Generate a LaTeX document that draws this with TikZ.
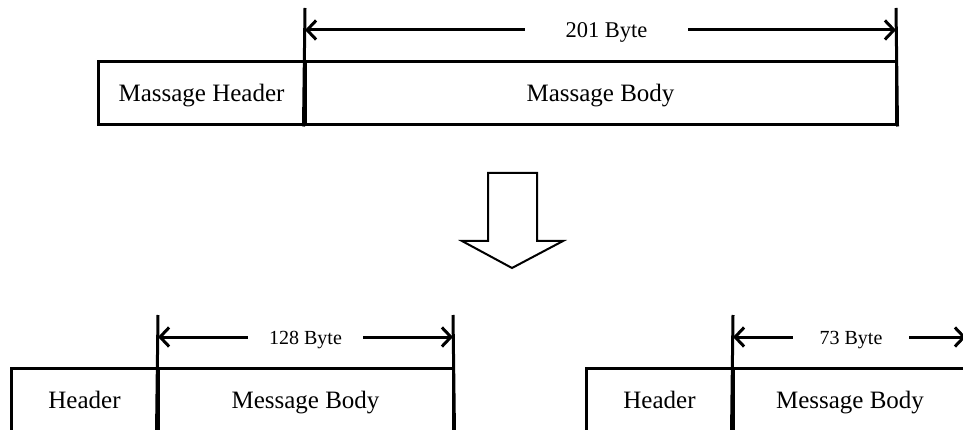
\documentclass[tikz,border=0pt]{standalone}
\usepackage{fontspec}
\setmainfont{Liberation Serif}
\usetikzlibrary{arrows.meta}
\begin{document}
\begin{tikzpicture}[x=1pt,y=-1pt,
  field/.style={draw,line width=3pt,rectangle,inner sep=0pt,
    text height=22.5pt,text depth=5.5pt,
    font=\fontsize{25}{30}\selectfont},
  dimline/.style={line width=3pt},
  dimarrow/.style={line width=3pt,-{Straight Barb[length=9pt,width=19pt]}},
  sizelabel/.style={inner sep=0pt},
  bigsize/.style={sizelabel,text height=20pt,text depth=4pt,
    font=\fontsize{22.5}{26}\selectfont},
  smallsize/.style={sizelabel,text height=18pt,text depth=3.6pt,
    font=\fontsize{20}{24}\selectfont},
  turn/.style={draw,line width=2pt,line join=miter}]
\useasboundingbox (0,0) rectangle (963,430);
\clip (0,0) rectangle (963,430);

% original message
\node[field,minimum width=207pt,minimum height=63pt] (hdr0) at (201.5,93.5) {Massage Header};
\node[field,minimum width=591pt,minimum height=63pt] (body0) at (600.5,93.5) {Massage Body};
\coordinate (e0l) at (305,8);
\coordinate (e0r) at (896,8);
\draw[dimline] (body0.south west) -- (e0l);
\draw[dimline] (body0.south east) -- (e0r);
\node[bigsize,minimum width=163pt] (l0) at (606.5,30) {201 Byte};
\draw[dimarrow] (l0.west) -- (l0.west -| e0l);
\draw[dimarrow] (l0.east) -- (l0.east -| e0r);

% splitting arrow
\draw[turn] (488,173) -- (537,173) -- (537,241) -- (563,241) -- (512,268)
  -- (462,241) -- (488,241) -- cycle;

% first fragment
\node[field,minimum width=147pt,minimum height=64pt] (hdr1) at (84.5,400) {Header};
\node[field,minimum width=295pt,minimum height=64pt] (body1) at (305.5,400) {Message Body};
\coordinate (e1l) at (158,315);
\coordinate (e1r) at (453,315);
\draw[dimline] (body1.south west) -- (e1l);
\draw[dimline] (body1.south east) -- (e1r);
\node[smallsize,minimum width=115pt] (l1) at (305.5,337) {128 Byte};
\draw[dimarrow] (l1.west) -- (l1.west -| e1l);
\draw[dimarrow] (l1.east) -- (l1.east -| e1r);

% second fragment
\node[field,minimum width=147pt,minimum height=64pt] (hdr2) at (659.5,400) {Header};
\node[field,minimum width=234pt,minimum height=64pt] (body2) at (850,400) {Message Body};
\coordinate (e2l) at (733,315);
\coordinate (e2r) at (966,315);
\draw[dimline] (body2.south west) -- (e2l);
\draw[dimline] (body2.south east) -- (e2r);
\node[smallsize,minimum width=116pt] (l2) at (851,337) {73 Byte};
\draw[dimarrow] (l2.west) -- (l2.west -| e2l);
\draw[dimarrow] (l2.east) -- (l2.east -| e2r);
\end{tikzpicture}
\end{document}
